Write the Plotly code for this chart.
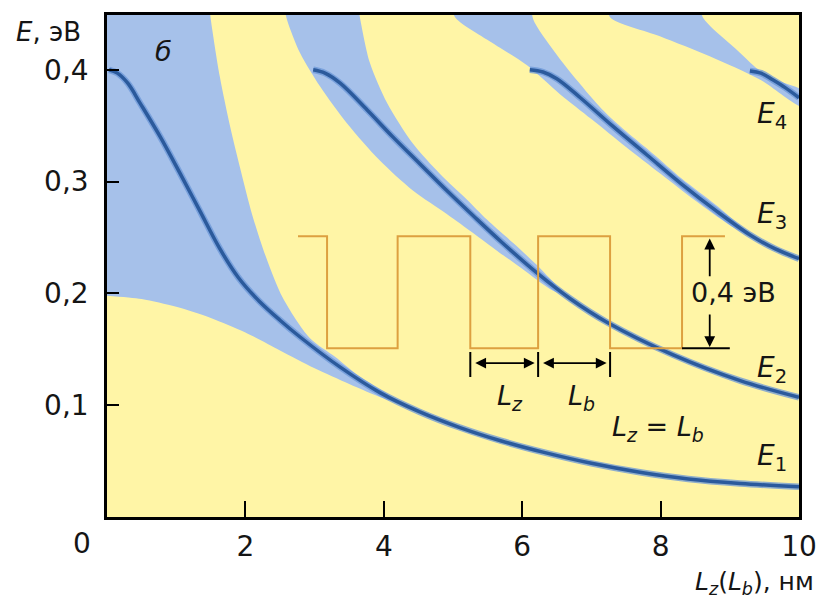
import plotly.graph_objects as go

# ---------------- data ----------------
# single-well levels E1..E4 : width L (nm) -> energy E (eV)
e1_L = [0.03, 0.15, 0.3, 0.48, 0.77, 1.05, 1.34, 1.63, 1.9, 2.2, 2.5, 2.79, 3.37, 3.95, 4.52, 5.1, 5.7, 6.3, 7.0, 7.7, 8.4, 9.15, 10.0]
e1_E = [0.400, 0.397, 0.388, 0.370, 0.340, 0.308, 0.274, 0.240, 0.214, 0.193, 0.176, 0.161, 0.134, 0.111, 0.094, 0.080, 0.068, 0.058, 0.048, 0.040, 0.034, 0.030, 0.027]

e2_L = [2.98, 3.15, 3.37, 3.76, 4.13, 4.52, 4.91, 5.3, 5.7, 6.2, 6.7, 7.23, 8.18, 9.15, 10.0]
e2_E = [0.400, 0.397, 0.388, 0.364, 0.340, 0.316, 0.292, 0.269, 0.246, 0.219, 0.195, 0.174, 0.145, 0.122, 0.107]

e3_L = [6.11, 6.3, 6.5, 6.84, 7.3, 7.8, 8.3, 8.8, 9.3, 9.65, 10.0]
e3_E = [0.400, 0.398, 0.392, 0.375, 0.350, 0.324, 0.298, 0.274, 0.252, 0.240, 0.231]

e4_L = [9.29, 9.45, 9.62, 9.8, 10.0]
e4_E = [0.399, 0.397, 0.391, 0.384, 0.375]

# minibands of the superlattice (lower edge, then upper edge back)
b1_low_L = [0.0, 0.5, 1.0, 1.5, 2.0, 2.5, 3.0, 3.5, 4.0, 4.3]
b1_low_E = [0.198, 0.195, 0.188, 0.178, 0.165, 0.149, 0.133, 0.119, 0.106, 0.100]
b1_up_L = [4.3, 4.0, 3.6, 3.3, 2.93, 2.54, 2.3, 2.1, 1.92, 1.78, 1.63, 1.5, 1.47]
b1_up_E = [0.100, 0.112, 0.128, 0.143, 0.160, 0.196, 0.232, 0.270, 0.313, 0.349, 0.394, 0.445, 0.46]

b2_low_L = [2.55, 2.60, 2.79, 3.08, 3.47, 3.94, 4.42, 4.91, 5.29, 5.64, 6.0, 6.4, 6.65]
b2_low_E = [0.46, 0.445, 0.415, 0.385, 0.352, 0.319, 0.292, 0.271, 0.254, 0.238, 0.222, 0.204, 0.197]
b2_up_L = [6.65, 6.2, 5.87, 5.49, 5.2, 4.81, 4.42, 4.05, 3.80, 3.66, 3.62]
b2_up_E = [0.197, 0.226, 0.245, 0.266, 0.284, 0.307, 0.334, 0.370, 0.406, 0.445, 0.46]

b3_low_L = [4.98, 5.03, 5.49, 6.07, 6.55, 7.0, 7.5, 8.0, 8.5, 9.0, 9.4]
b3_low_E = [0.46, 0.447, 0.427, 0.404, 0.378, 0.356, 0.331, 0.307, 0.283, 0.261, 0.247]
b3_up_L = [9.4, 8.8, 8.3, 7.89, 7.5, 7.15, 6.8, 6.47, 6.16, 6.13]
b3_up_E = [0.247, 0.279, 0.303, 0.325, 0.345, 0.365, 0.390, 0.416, 0.445, 0.46]

b4_low_L = [7.24, 7.27, 7.99, 8.71, 9.44, 10.05]
b4_low_E = [0.46, 0.447, 0.430, 0.412, 0.391, 0.367]
b4_up_L = [10.05, 9.54, 9.1, 8.61, 8.58]
b4_up_E = [0.381, 0.394, 0.418, 0.447, 0.46]

# schematic superlattice potential (inset)
wave_L = [2.76, 3.18, 3.18, 4.2, 4.2, 5.25, 5.25, 6.23, 6.23, 7.27, 7.27, 8.31, 8.31, 8.93]
wave_E = [0.251, 0.251, 0.151, 0.151, 0.251, 0.251, 0.151, 0.151, 0.251, 0.251, 0.151, 0.151, 0.251, 0.251]

x_ticks = [2, 4, 6, 8, 10]
x_ticktext = ["2", "4", "6", "8", "10"]
y_ticks = [0.1, 0.2, 0.3, 0.4]
y_ticktext = ["0,1", "0,2", "0,3", "0,4"]

# ---------------- styling ----------------
YELLOW = "#FFF5A6"
BAND = "#A6C1EA"
LINE = "#2B5A9C"
GLOW = "rgba(105,150,215,0.75)"
ORANGE = "#DDA040"
FONT = "DejaVu Sans"
TXT = "#151515"

fig = go.Figure()

def band(lowL, lowE, upL, upE, extra_L=None, extra_E=None):
    xs = list(lowL) + list(upL)
    ys = list(lowE) + list(upE)
    if extra_L is not None:
        xs += extra_L
        ys += extra_E
    fig.add_trace(go.Scatter(x=xs, y=ys, mode="lines", fill="toself",
                             fillcolor=BAND, line=dict(width=0, color=BAND, shape="spline", smoothing=0.8),
                             hoverinfo="skip", showlegend=False))

band(b1_low_L, b1_low_E, b1_up_L, b1_up_E, [0.6, -0.6, -0.6, -0.3], [0.6, 0.6, 0.2, 0.199])
band(b2_low_L, b2_low_E, b2_up_L, b2_up_E)
band(b3_low_L, b3_low_E, b3_up_L, b3_up_E)
band(b4_low_L, b4_low_E, b4_up_L, b4_up_E)

levels = [(e1_L, e1_E), (e2_L, e2_E), (e3_L, e3_E), (e4_L, e4_E)]
for L, E in levels:
    fig.add_trace(go.Scatter(x=L, y=E, mode="lines", line=dict(color=GLOW, width=6.5, shape="spline"),
                             hoverinfo="skip", showlegend=False))
for L, E in levels:
    fig.add_trace(go.Scatter(x=L, y=E, mode="lines", line=dict(color=LINE, width=3.5, shape="spline"),
                             hoverinfo="skip", showlegend=False))

# inset potential profile
fig.add_trace(go.Scatter(x=wave_L, y=wave_E, mode="lines", line=dict(color=ORANGE, width=2),
                         hoverinfo="skip", showlegend=False))
fig.add_trace(go.Scatter(x=[wave_L[-3], 9.0], y=[wave_E[-3], wave_E[-3]], mode="lines",
                         line=dict(color="black", width=2), hoverinfo="skip", showlegend=False))

# dimension marks for Lz, Lb
arrow_E = 0.1377
for xv in [wave_L[5], wave_L[7], wave_L[9]]:
    fig.add_shape(type="line", x0=xv, x1=xv, y0=0.1252, y1=0.1476, line=dict(color="black", width=2))
for a, b in [(wave_L[5], wave_L[7]), (wave_L[7], wave_L[9])]:
    fig.add_annotation(x=b - 0.05, y=arrow_E, ax=a + 0.05, ay=arrow_E, xref="x", yref="y",
                       axref="x", ayref="y", text="", showarrow=True, arrowhead=2,
                       arrowside="end+start", arrowsize=1.2, arrowwidth=1.8, arrowcolor="black")

# vertical 0,4 eV arrow
va_L = 8.71
fig.add_annotation(x=va_L, y=0.249, ax=va_L, ay=0.214, xref="x", yref="y", axref="x", ayref="y",
                   text="", showarrow=True, arrowhead=2, arrowsize=1.2, arrowwidth=1.8, arrowcolor="black")
fig.add_annotation(x=va_L, y=0.152, ax=va_L, ay=0.1825, xref="x", yref="y", axref="x", ayref="y",
                   text="", showarrow=True, arrowhead=2, arrowsize=1.2, arrowwidth=1.8, arrowcolor="black")

def txt(x, y, t, size=26, xanchor="center", xref="x", yref="y"):
    fig.add_annotation(x=x, y=y, xref=xref, yref=yref, text=t, showarrow=False,
                       xanchor=xanchor, yanchor="middle",
                       font=dict(family=FONT, size=size, color=TXT))

txt(9.06, 0.201, "0,4 эВ", 27)
txt(5.82, 0.107, "<i>L<sub>z</sub></i>", 27)
txt(6.86, 0.107, "<i>L<sub>b</sub></i>", 27)
txt(7.96, 0.079, "<i>L<sub>z</sub></i> = <i>L<sub>b</sub></i>", 27)
txt(9.61, 0.359, "<i>E</i><sub>4</sub>", 28)
txt(9.61, 0.270, "<i>E</i><sub>3</sub>", 28)
txt(9.61, 0.132, "<i>E</i><sub>2</sub>", 28)
txt(9.61, 0.053, "<i>E</i><sub>1</sub>", 28)
txt(0.81, 0.416, "<i>б</i>", 27)

# axis titles and the shared origin label (paper coords)
fig.add_annotation(x=-0.034, y=0.966, xref="paper", yref="paper", text="<i>E</i>, эВ", showarrow=False,
                   xanchor="right", yanchor="middle", font=dict(family=FONT, size=26, color=TXT))
fig.add_annotation(x=1.025, y=-0.132, xref="paper", yref="paper",
                   text="<i>L<sub>z</sub></i>(<i>L<sub>b</sub></i>), нм", showarrow=False,
                   xanchor="right", yanchor="middle", font=dict(family=FONT, size=25, color=TXT))
fig.add_annotation(x=-0.036, y=-0.052, xref="paper", yref="paper", text="0", showarrow=False,
                   xanchor="center", yanchor="middle", font=dict(family=FONT, size=28, color=TXT))

fig.update_layout(
    width=819, height=600,
    margin=dict(l=107, r=20, t=15, b=83, autoexpand=False),
    paper_bgcolor="white", plot_bgcolor=YELLOW,
    showlegend=False,
    font=dict(family=FONT, size=28, color=TXT),
)
fig.update_xaxes(range=[0, 10], tickvals=x_ticks, ticktext=x_ticktext, ticks="inside",
                 ticklen=16, tickwidth=2, tickcolor="black", showgrid=False, zeroline=False,
                 showline=True, linecolor="black", linewidth=2.5, mirror=True, automargin=False,
                 ticklabelstandoff=3, tickfont=dict(family=FONT, size=28, color=TXT))
fig.update_yaxes(range=[0, 0.449], tickvals=y_ticks, ticktext=y_ticktext, ticks="inside",
                 ticklen=12, tickwidth=2, tickcolor="black", showgrid=False, zeroline=False,
                 showline=True, linecolor="black", linewidth=2.5, mirror=True, automargin=False,
                 ticklabelstandoff=10, tickfont=dict(family=FONT, size=28, color=TXT))

fig.write_html("out.html", config={"displayModeBar": False},
               post_script="document.body.style.margin='0px';")
